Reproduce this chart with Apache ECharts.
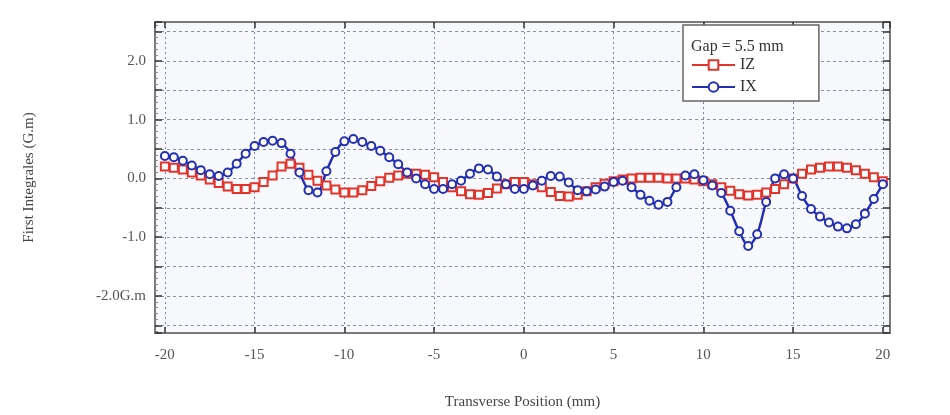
<!DOCTYPE html>
<html>
<head>
<meta charset="utf-8">
<script src="https://cdn.jsdelivr.net/npm/echarts@6/dist/echarts.min.js"></script>
<style>
  html, body { margin: 0; padding: 0; background: #ffffff; }
  #chart { width: 950px; height: 415px; }
</style>
</head>
<body>
<div id="chart"></div>
<script>
// transverse positions, 0.5 mm step
var positions = [];
for (var p = -20; p <= 20.001; p += 0.5) { positions.push(Math.round(p * 10) / 10); }

var izValues = [0.20, 0.18, 0.15, 0.10, 0.05, -0.02, -0.08, -0.14, -0.18, -0.18,
  -0.15, -0.06, 0.05, 0.20, 0.25, 0.18, 0.06, -0.04, -0.12, -0.19,
  -0.24, -0.24, -0.20, -0.13, -0.05, 0.01, 0.05, 0.08, 0.08, 0.06,
  0.02, -0.06, -0.15, -0.22, -0.27, -0.28, -0.25, -0.17, -0.10, -0.06,
  -0.06, -0.10, -0.15, -0.23, -0.30, -0.31, -0.28, -0.22, -0.15, -0.09,
  -0.05, -0.02, 0.00, 0.01, 0.01, 0.01, 0.00, 0.00, 0.00, -0.02,
  -0.05, -0.10, -0.15, -0.21, -0.27, -0.29, -0.28, -0.24, -0.18, -0.10,
  0.00, 0.08, 0.15, 0.18, 0.20, 0.20, 0.18, 0.14, 0.08, 0.02, -0.05];

var ixValues = [0.38, 0.36, 0.30, 0.22, 0.14, 0.07, 0.04, 0.10, 0.25, 0.42,
  0.55, 0.62, 0.64, 0.60, 0.42, 0.10, -0.20, -0.24, 0.12, 0.45,
  0.63, 0.67, 0.62, 0.55, 0.47, 0.36, 0.24, 0.10, 0.00, -0.10,
  -0.18, -0.18, -0.10, -0.04, 0.08, 0.17, 0.15, 0.03, -0.10, -0.18,
  -0.18, -0.12, -0.04, 0.04, 0.03, -0.07, -0.20, -0.22, -0.19, -0.14,
  -0.06, -0.04, -0.15, -0.28, -0.38, -0.45, -0.40, -0.15, 0.05, 0.07,
  -0.03, -0.12, -0.25, -0.55, -0.90, -1.15, -0.95, -0.40, 0.00, 0.07,
  0.00, -0.30, -0.52, -0.65, -0.75, -0.82, -0.85, -0.78, -0.60, -0.35, -0.10];

var seriesNames = ['IZ', 'IX'];
var legendTitle = 'Gap = 5.5 mm';

function pairs(vals) {
  var out = [];
  for (var i = 0; i < positions.length; i++) { out.push([positions[i], vals[i]]); }
  return out;
}

var font = 'Liberation Serif';
var xRange = [-20.55, 20.4];
var yRange = [-2.63, 2.66];

function xLabel(v) {
  return Math.abs(v % 5) < 1e-6 ? String(v) : '';
}
function yLabel(v) {
  var r = Math.round(v * 10) / 10;
  if (Math.abs(r - Math.round(r)) > 1e-6 || Math.abs(v - r) > 1e-6) return '';
  if (r === -2) return '-2.0G.m';
  return r.toFixed(1);
}

var frameLine = { show: true, onZero: false, lineStyle: { color: '#7a7a7a', width: 2 } };

var chart = echarts.init(document.getElementById('chart'));
chart.setOption({
  backgroundColor: '#ffffff',
  animation: false,
  textStyle: { fontFamily: font },
  title: {
    text: legendTitle, left: 686, top: 34,
    textStyle: { fontFamily: font, fontSize: 16, fontWeight: 'normal', color: '#333' }
  },
  legend: {
    data: seriesNames, orient: 'vertical', left: 683, top: 25,
    padding: [32, 62, 6, 8], itemGap: 6, itemWidth: 43, itemHeight: 12,
    backgroundColor: '#ffffff', borderColor: '#666', borderWidth: 1.5,
    textStyle: { fontFamily: font, fontSize: 16, color: '#333' }
  },
  grid: {
    left: 155, top: 22, width: 735, height: 311,
    show: true, backgroundColor: '#f8f9fc', borderWidth: 0
  },
  xAxis: [{
    type: 'value', min: xRange[0], max: xRange[1], minInterval: 5, maxInterval: 5,
    name: 'Transverse Position (mm)', nameLocation: 'middle', nameGap: 62,
    nameTextStyle: { fontFamily: font, fontSize: 15, color: '#444' },
    axisLine: frameLine,
    axisTick: { inside: true, length: 6, lineStyle: { color: '#333', width: 1.5 } },
    axisLabel: { formatter: xLabel, margin: 15, fontSize: 15, color: '#555', fontFamily: font,
      showMinLabel: false, showMaxLabel: false },
    splitLine: { show: true, lineStyle: { color: '#7384c4', width: 1, type: [2, 3] } }
  }, {
    type: 'value', position: 'top', min: xRange[0], max: xRange[1], minInterval: 5, maxInterval: 5,
    axisLine: frameLine,
    axisTick: { inside: true, length: 6, lineStyle: { color: '#333', width: 1.5 } },
    axisLabel: { show: false }, splitLine: { show: false }
  }],
  yAxis: [{
    type: 'value', min: yRange[0], max: yRange[1], minInterval: 0.5, maxInterval: 0.5,
    name: 'First Integrales (G.m)', nameLocation: 'middle', nameGap: 118,
    nameTextStyle: { fontFamily: font, fontSize: 15, color: '#444' },
    axisLine: frameLine,
    axisTick: { inside: true, length: 7, lineStyle: { color: '#333', width: 1.5 } },
    minorTick: { show: true, splitNumber: 5, length: 3, lineStyle: { color: '#888' } },
    axisLabel: { formatter: yLabel, margin: 9, fontSize: 15, color: '#555', fontFamily: font },
    splitLine: { show: true, lineStyle: { color: '#8a90a4', width: 1, type: [3, 3] } }
  }, {
    type: 'value', position: 'right', min: yRange[0], max: yRange[1], minInterval: 0.5, maxInterval: 0.5,
    axisLine: frameLine,
    axisTick: { inside: true, length: 7, lineStyle: { color: '#333', width: 1.5 } },
    axisLabel: { show: false }, splitLine: { show: false }
  }],
  series: [{
    name: 'IZ', type: 'line', smooth: 0.3, data: pairs(izValues),
    symbol: 'emptyRect', symbolSize: 8,
    lineStyle: { color: '#e3342c', width: 2.5 },
    itemStyle: { color: '#e3342c', borderColor: '#ef6f66', borderWidth: 1 }
  }, {
    name: 'IX', type: 'line', smooth: 0.3, data: pairs(ixValues),
    symbol: 'emptyCircle', symbolSize: 8,
    lineStyle: { color: '#2430b4', width: 2.5 },
    itemStyle: { color: '#2430b4', borderColor: '#727bd6', borderWidth: 1 }
  }]
});
</script>
</body>
</html>
